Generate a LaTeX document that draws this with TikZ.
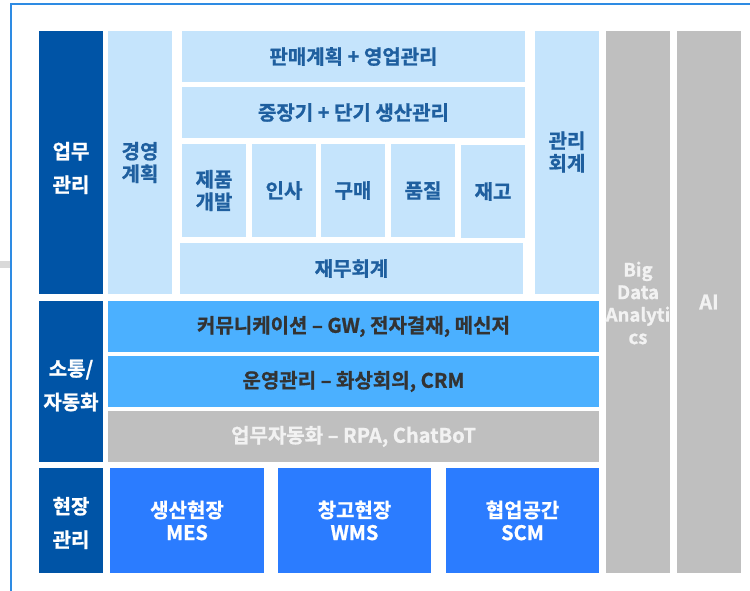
\documentclass[tikz,border=0pt]{standalone}
\usepackage{fontspec}
\setmainfont{Noto Sans CJK KR}[BoldFont={Noto Sans CJK KR Bold}, BoldFeatures={FakeBold=1}]
\definecolor{dkblue}{HTML}{0054A6}
\definecolor{ltblue}{HTML}{C5E4FC}
\definecolor{mdblue}{HTML}{4BB0FF}
\definecolor{brblue}{HTML}{2B7CFF}
\definecolor{gbox}{HTML}{BFBFBF}
\definecolor{txblue}{HTML}{1F5F9F}
\definecolor{txdark}{HTML}{333333}
\definecolor{txlight}{HTML}{F2F2F2}
\definecolor{frameblue}{HTML}{2E8BE3}
\definecolor{sidegray}{HTML}{D9D9D9}
\tikzset{
  base/.style={inner sep=0pt, outer sep=0pt, align=center,
    font=\bfseries\fontsize{20}{22.5}\selectfont},
  boxdk/.style={base, fill=dkblue, text=white},
  boxlt/.style={base, fill=ltblue, text=txblue},
  boxmd/.style={base, fill=mdblue, text=txdark},
  boxbr/.style={base, fill=brblue, text=white},
  boxgr/.style={base, fill=gbox, text=txlight},
  lbl/.style={base, text=white},
  sz/.style 2 args={minimum width=#1pt, minimum height=#2pt},
}
\begin{document}
\begin{tikzpicture}[x=1pt,y=-1pt]
\useasboundingbox (0,0) rectangle (750,591);
\clip (0,0) rectangle (750,591);
% frame and side mark
\fill[sidegray] (0,261) rectangle (10,268);
\draw[frameblue, line width=2pt] (11,3.7) rectangle (780,620);
% left column
\node[boxdk, sz={64}{263}] (upmu) at (71,162.5) {};
\node[lbl] (upmu-t) at (71,168) {업무\\[11pt]관리};
\node[boxdk, sz={64}{161}] (sotong) at (71,381.5) {};
\node[lbl] (sotong-t) at (71,385.5) {소통/\\[11pt]자동화};
\node[boxdk, sz={64}{105}] (hyeon) at (71,520.5) {};
\node[lbl] (hyeon-t) at (71,523) {현장\\[11pt]관리};
% business management
\node[boxlt, sz={64}{263}] (gy) at (140,162.5) {경영\\계획};
\node[boxlt, sz={343}{51}] (pm) at (353.5,56.5) {판매계획 + 영업관리};
\node[boxlt, sz={343}{51}] (jj) at (353.5,112.5) {중장기 + 단기 생산관리};
\node[boxlt, sz={64}{93}] (jp) at (214,190.5) {제품\\개발};
\node[boxlt, sz={64}{93}] (is) at (284,190.5) {인사};
\node[boxlt, sz={64}{93}] (gm) at (353,190.5) {구매};
\node[boxlt, sz={64}{93}] (pj) at (423,190.5) {품질};
\node[boxlt, sz={64}{93}] (jg) at (493,191.5) {재고};
\node[boxlt, sz={343}{51}] (jm) at (351.5,268.5) {재무회계};
\node[boxlt, sz={64}{263}] (gh) at (567,162.5) {};
\node[base, text=txblue] (gh-t) at (567,152) {관리\\회계};
% right columns
\node[boxgr, sz={64}{542}] (bd) at (638,302) {};
\node[base, text=txlight, font=\bfseries\fontsize{18.5}{22.5}\selectfont] (bd-t) at (638,303) {Big\\Data\\Analyti\\cs};
\node[boxgr, sz={64}{542}] (ai) at (709,302) {AI};
% communication / automation
\node[boxmd, sz={491}{51}] (cm) at (353.5,326.5) {커뮤니케이션 – GW, 전자결재, 메신저};
\node[boxmd, sz={491}{51}] (ug) at (353.5,381.5) {운영관리 – 화상회의, CRM};
\node[boxgr, sz={491}{51}] (ua) at (353.5,436.5) {업무자동화 – RPA, ChatBoT};
% field management
\node[boxbr, sz={154}{105}] (sj) at (187,520.5) {생산현장\\MES};
\node[boxbr, sz={153}{105}] (cg) at (354.5,520.5) {창고현장\\WMS};
\node[boxbr, sz={153}{105}] (hy) at (522.5,520.5) {협업공간\\SCM};
\end{tikzpicture}
\end{document}
